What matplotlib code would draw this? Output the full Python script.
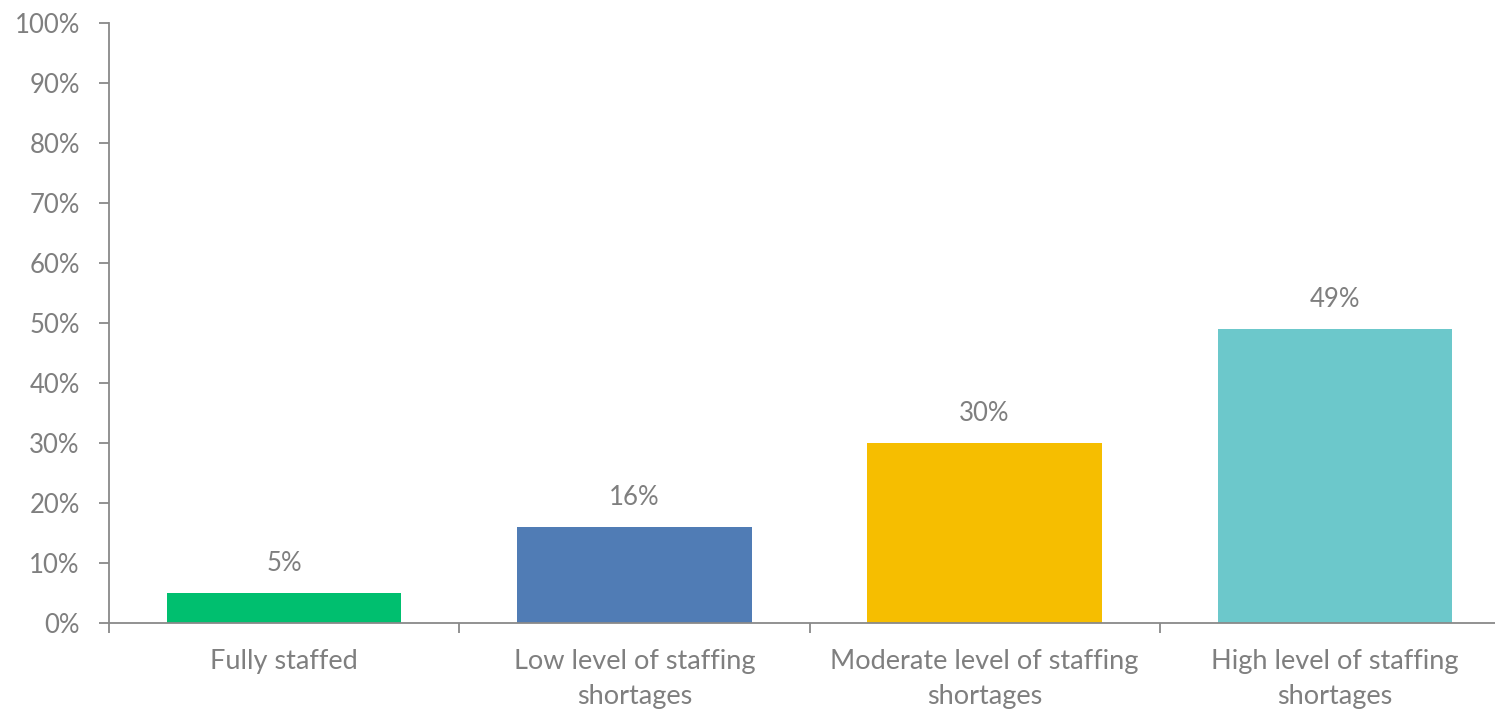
import matplotlib.pyplot as plt
from matplotlib.ticker import FixedLocator, NullFormatter

categories = ['Fully staffed', 'Low level of staffing\nshortages',
              'Moderate level of staffing\nshortages', 'High level of staffing\nshortages']
shares = [5, 16, 30, 49]
colors = ['#00BF6F', '#507CB5', '#F6BE00', '#6CC8CB']

grey = '#898989'
text_grey = '#7F7F7F'

plt.rcParams['font.family'] = ['Lato', 'DejaVu Sans']

fig = plt.figure(figsize=(14.95, 7.13), dpi=100)
ax = fig.add_axes([109 / 1495, 90 / 713, 1401 / 1495, 600 / 713])

x = range(len(categories))
bars = ax.bar(x, shares, width=0.67, color=colors, zorder=2)

for b, v in zip(bars, shares):
    ax.annotate('{:d}%'.format(v), (b.get_x() + b.get_width() / 2, v),
                xytext=(0, 21), textcoords='offset points',
                ha='center', va='center', fontsize=18.5, color=text_grey)

ax.set_xlim(-0.5, 3.5)
ax.set_ylim(0, 100)
ax.set_yticks(range(0, 101, 10))
ax.set_yticklabels(['{:d}%'.format(t) for t in range(0, 101, 10)])

# boundaries get the tick marks, category names sit on minor ticks
ax.xaxis.set_major_locator(FixedLocator([-0.5, 0.5, 1.5, 2.5, 3.5]))
ax.xaxis.set_major_formatter(NullFormatter())
ax.xaxis.set_minor_locator(FixedLocator(list(x)))
ax.set_xticklabels(categories, minor=True, linespacing=1.5)

ax.tick_params(axis='y', direction='out', length=7, width=1.3, color=grey,
               labelsize=18.5, labelcolor=text_grey, pad=14)
ax.tick_params(axis='x', which='major', direction='out', length=7, width=1.3, color=grey)
ax.tick_params(axis='x', which='minor', length=0, labelsize=19.5,
               labelcolor=text_grey, pad=19)

for side in ['top', 'right']:
    ax.spines[side].set_visible(False)
for side in ['left', 'bottom']:
    ax.spines[side].set_color(grey)
    ax.spines[side].set_linewidth(1.3)

fig.savefig('out.png', dpi=100)
